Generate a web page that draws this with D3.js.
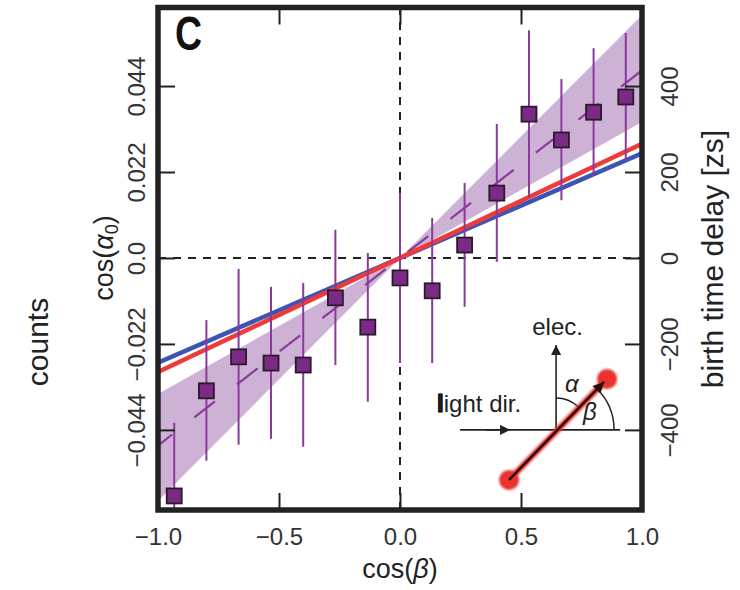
<!DOCTYPE html>
<html>
<head>
<meta charset="utf-8">
<script src="https://cdn.jsdelivr.net/npm/d3@7"></script>
<style>
  html, body { margin: 0; padding: 0; background: #fff; }
  svg { display: block; font-family: "Liberation Sans", Helvetica, Arial, sans-serif; }
</style>
</head>
<body>
<div id="chart"></div>
<script>
// ---------------------------------------------------------------------------
// data
// ---------------------------------------------------------------------------
const binCenters = [-0.933, -0.8, -0.667, -0.533, -0.4, -0.267, -0.133, 0, 0.133, 0.267, 0.4, 0.533, 0.667, 0.8, 0.933];
const cosAlpha  = [-0.0609, -0.0340, -0.0253, -0.0269, -0.0274, -0.0102, -0.0177, -0.0051, -0.0084, 0.0033, 0.0166, 0.0368, 0.0302, 0.0373, 0.0412];
const errTop    = [-0.0422, -0.0159, -0.0028, -0.0074, -0.0064, 0.0072, 0.0013, 0.0166, 0.0102, 0.0192, 0.0343, 0.0583, 0.0458, 0.0537, 0.0576];
const errBottom = [-0.0645, -0.0519, -0.0478, -0.0463, -0.0483, -0.0274, -0.0368, -0.0269, -0.0269, -0.0125, -0.0010, 0.0156, 0.0148, 0.0210, 0.0251];

// fitted lines and the confidence band
const lineX     = [-1, 1];
const blueLine  = [-0.0268, 0.0268];
const redLine   = [-0.0292, 0.0292];
const fitLine   = [-0.048, 0.048];
const bandX     = [-1, 0, 1];
const bandLow   = [-0.0622, 0, 0.0348];
const bandHigh  = [-0.0348, 0, 0.0622];

// ticks
const xTicks      = [-1, -0.5, 0, 0.5, 1];
const xTickLabels = ['\u22121.0', '\u22120.5', '0.0', '0.5', '1.0'];
const yTicks      = [-0.044, -0.022, 0, 0.022, 0.044];
const yTickLabels = ['\u22120.044', '\u22120.022', '0.0', '0.022', '0.044'];
const zsTicks      = [-400, -200, 0, 200, 400];
const zsTickLabels = ['\u2212400', '\u2212200', '0', '200', '400'];

// ---------------------------------------------------------------------------
// layout
// ---------------------------------------------------------------------------
const W = 740, H = 590;
const frame = { left: 158, right: 642, top: 7.5, bottom: 510 };
const tickLen = 17;
const ink = '#222';
const grey = '#333';

const svg = d3.select('#chart').append('svg')
  .attr('width', W).attr('height', H)
  .attr('viewBox', `0 0 ${W} ${H}`);

const x = d3.scaleLinear().domain([-1, 1]).range([frame.left, frame.right]);
const y = d3.scaleLinear().domain([-0.0645, 0.0641]).range([frame.bottom, frame.top]);
// 200 zs corresponds to 0.022 in cos(alpha0)
const zsPerUnit = 200 / 0.022;
const y2 = d3.scaleLinear().domain(y.domain().map(d => d * zsPerUnit)).range(y.range());

svg.append('clipPath').attr('id', 'plot-clip')
  .append('rect')
  .attr('x', frame.left).attr('y', frame.top)
  .attr('width', frame.right - frame.left).attr('height', frame.bottom - frame.top);

const plot = svg.append('g').attr('clip-path', 'url(#plot-clip)');

// confidence band
const band = d3.area()
  .x((d, i) => x(bandX[i]))
  .y0((d, i) => y(bandLow[i]))
  .y1((d, i) => y(bandHigh[i]));
plot.append('path').datum(bandX)
  .attr('d', band)
  .attr('fill', '#cdb2d5');

// zero reference lines
plot.append('line')
  .attr('x1', x(-1)).attr('x2', x(1)).attr('y1', y(0)).attr('y2', y(0))
  .attr('stroke', ink).attr('stroke-width', 2).attr('stroke-dasharray', '8,7');
plot.append('line')
  .attr('x1', x(0)).attr('x2', x(0)).attr('y1', y.range()[0]).attr('y2', y.range()[1])
  .attr('stroke', ink).attr('stroke-width', 2).attr('stroke-dasharray', '8,7');

// straight lines
const lineGen = vals => d3.line().x((d, i) => x(lineX[i])).y((d, i) => y(vals[i]))(lineX);

plot.append('path').attr('d', lineGen(fitLine))
  .attr('fill', 'none').attr('stroke', '#8a3a9a').attr('stroke-width', 2.2)
  .attr('stroke-dasharray', '26,28').attr('stroke-dashoffset', 8);

plot.append('path').attr('d', lineGen(blueLine))
  .attr('fill', 'none').attr('stroke', '#3c55b4').attr('stroke-width', 4.5);
plot.append('path').attr('d', lineGen(redLine))
  .attr('fill', 'none').attr('stroke', '#ef3a3a').attr('stroke-width', 4.5);

// error bars
plot.append('g').selectAll('line')
  .data(binCenters)
  .join('line')
    .attr('x1', d => x(d)).attr('x2', d => x(d))
    .attr('y1', (d, i) => y(errTop[i]))
    .attr('y2', (d, i) => y(errBottom[i]))
    .attr('stroke', '#8b3a9c').attr('stroke-width', 2);

// squares
const sq = 15;
plot.append('g').selectAll('rect')
  .data(binCenters)
  .join('rect')
    .attr('x', d => x(d) - sq / 2)
    .attr('y', (d, i) => y(cosAlpha[i]) - sq / 2)
    .attr('width', sq).attr('height', sq)
    .attr('fill', '#7b2a85')
    .attr('stroke', '#2a1a2a').attr('stroke-width', 1.8);

// ---------------------------------------------------------------------------
// axes (ticks point inwards)
// ---------------------------------------------------------------------------
function styleAxis(g) {
  g.select('.domain').remove();
  g.selectAll('.tick line').attr('stroke', ink).attr('stroke-width', 2);
  g.selectAll('.tick text').attr('fill', grey).attr('font-size', 24);
}

svg.append('g')
  .attr('transform', `translate(0,${frame.bottom})`)
  .call(d3.axisBottom(x).tickValues(xTicks)
    .tickFormat((d, i) => xTickLabels[i]).tickSizeInner(-tickLen).tickSizeOuter(0))
  .call(styleAxis)
  .call(g => g.selectAll('.tick text').attr('dy', null).attr('y', 35));

svg.append('g')
  .attr('transform', `translate(0,${frame.top})`)
  .call(d3.axisTop(x).tickValues([-0.5, 0, 0.5]).tickFormat('').tickSizeInner(-tickLen).tickSizeOuter(0))
  .call(styleAxis);

svg.append('g')
  .attr('transform', `translate(${frame.left},0)`)
  .call(d3.axisLeft(y).tickValues(yTicks)
    .tickFormat((d, i) => yTickLabels[i]).tickSizeInner(-tickLen).tickSizeOuter(0))
  .call(styleAxis)
  .call(g => g.selectAll('.tick text')
    .attr('x', null).attr('dy', null).attr('text-anchor', 'middle')
    .attr('transform', 'translate(-13,0) rotate(-90)'));

svg.append('g')
  .attr('transform', `translate(${frame.right},0)`)
  .call(d3.axisRight(y2).tickValues(zsTicks)
    .tickFormat((d, i) => zsTickLabels[i]).tickSizeInner(-tickLen).tickSizeOuter(0))
  .call(styleAxis)
  .call(g => g.selectAll('.tick text')
    .attr('x', null).attr('dy', null).attr('text-anchor', 'middle')
    .attr('transform', 'translate(36,0) rotate(-90)'));

// frame
svg.append('rect')
  .attr('x', frame.left).attr('y', frame.top)
  .attr('width', frame.right - frame.left).attr('height', frame.bottom - frame.top)
  .attr('fill', 'none').attr('stroke', ink).attr('stroke-width', 5.5);

// ---------------------------------------------------------------------------
// labels
// ---------------------------------------------------------------------------
svg.append('text')
  .attr('x', x(0)).attr('y', 578)
  .attr('text-anchor', 'middle').attr('font-size', 27).attr('fill', ink)
  .html('cos(<tspan font-style="italic">β</tspan>)');

const yLab = svg.append('text')
  .attr('transform', `translate(113,${y(0)}) rotate(-90)`)
  .attr('text-anchor', 'middle').attr('font-size', 27).attr('fill', ink);
yLab.append('tspan').text('cos(');
yLab.append('tspan').attr('font-style', 'italic').text('α');
yLab.append('tspan').attr('font-size', 18).attr('dy', 5).text('0');
yLab.append('tspan').attr('dy', -5).text(')');

svg.append('text')
  .attr('transform', 'translate(48,342) rotate(-90)')
  .attr('text-anchor', 'middle').attr('font-size', 30).attr('fill', ink)
  .text('counts');

svg.append('text')
  .attr('transform', 'translate(723,259) rotate(-90)')
  .attr('text-anchor', 'middle').attr('font-size', 30).attr('fill', ink)
  .text('birth time delay [zs]');

svg.append('text')
  .attr('transform', 'translate(175,50) scale(0.78,1)')
  .attr('font-size', 48).attr('font-weight', 'bold').attr('fill', '#111')
  .text('C');

// ---------------------------------------------------------------------------
// geometry sketch (inset), placed relative to a point on the data scales
// ---------------------------------------------------------------------------
const ox = x(0.645), oy = y(-0.044);
const inset = svg.append('g').attr('transform', `translate(${ox},${oy})`);

const defs = svg.append('defs');
defs.append('marker').attr('id', 'head')
  .attr('viewBox', '0 0 10 10').attr('refX', 10).attr('refY', 5)
  .attr('markerWidth', 12).attr('markerHeight', 10).attr('markerUnits', 'userSpaceOnUse')
  .attr('orient', 'auto')
  .append('path').attr('d', 'M0,0 L10,5 L0,10 Z').attr('fill', ink);
defs.append('marker').attr('id', 'head-dark')
  .attr('viewBox', '0 0 10 10').attr('refX', 10).attr('refY', 5)
  .attr('markerWidth', 13).attr('markerHeight', 11).attr('markerUnits', 'userSpaceOnUse')
  .attr('orient', 'auto')
  .append('path').attr('d', 'M0,0 L10,5 L0,10 Z').attr('fill', '#2a0a0a');
defs.append('filter').attr('id', 'soft')
  .append('feGaussianBlur').attr('stdDeviation', 1);

// light direction (horizontal) with arrowhead at the middle
inset.append('line').attr('x1', -96).attr('y1', 0).attr('x2', 64).attr('y2', 0)
  .attr('stroke', ink).attr('stroke-width', 1.6);
inset.append('line').attr('x1', -70).attr('y1', 0).attr('x2', -46).attr('y2', 0)
  .attr('stroke', ink).attr('stroke-width', 1.6).attr('marker-end', 'url(#head)');

// electric field (vertical)
inset.append('line').attr('x1', 0).attr('y1', 0).attr('x2', 0).attr('y2', -85)
  .attr('stroke', ink).attr('stroke-width', 1.6).attr('marker-end', 'url(#head)');

// angle arcs
const ang = 46 * Math.PI / 180;
const arcA = d3.arc().innerRadius(32).outerRadius(32).startAngle(0).endAngle(Math.PI / 2 - ang);
const arcB = d3.arc().innerRadius(58).outerRadius(58).startAngle(Math.PI / 2 - ang).endAngle(Math.PI / 2);
inset.append('path').attr('d', arcA()).attr('fill', 'none').attr('stroke', ink).attr('stroke-width', 1.5);
inset.append('path').attr('d', arcB()).attr('fill', 'none').attr('stroke', ink).attr('stroke-width', 1.5);

// electron momentum: red dots and dark arrow with red halo
const p0 = [-47, 50], p1 = [51, -51];
inset.append('line')
  .attr('x1', p0[0]).attr('y1', p0[1]).attr('x2', p1[0]).attr('y2', p1[1])
  .attr('stroke', '#e8302f').attr('stroke-width', 6).attr('filter', 'url(#soft)');
inset.selectAll('circle.dot').data([p0, p1]).join('circle')
  .attr('class', 'dot')
  .attr('cx', d => d[0]).attr('cy', d => d[1]).attr('r', 10)
  .attr('fill', '#e8302f').attr('filter', 'url(#soft)');
inset.append('line')
  .attr('x1', p0[0]).attr('y1', p0[1]).attr('x2', p1[0] - 3).attr('y2', p1[1] + 3)
  .attr('stroke', '#2a0a0a').attr('stroke-width', 2.4).attr('marker-end', 'url(#head-dark)');

// inset texts
inset.append('text').attr('x', 1.5).attr('y', -95)
  .attr('text-anchor', 'middle').attr('font-size', 24).attr('fill', ink)
  .text('elec.');
const light = inset.append('text').attr('x', -119).attr('y', -18)
  .attr('font-size', 24).attr('fill', ink);
light.append('tspan').attr('font-weight', 'bold').attr('stroke', '#000').attr('stroke-width', 1.2).text('l');
light.append('tspan').text('ight dir.');
inset.append('text').attr('x', 9).attr('y', -38)
  .attr('font-size', 24).attr('font-style', 'italic').attr('fill', ink)
  .text('α');
inset.append('text').attr('x', 27).attr('y', -10)
  .attr('font-size', 24).attr('font-style', 'italic').attr('fill', ink)
  .text('β');
</script>
</body>
</html>
